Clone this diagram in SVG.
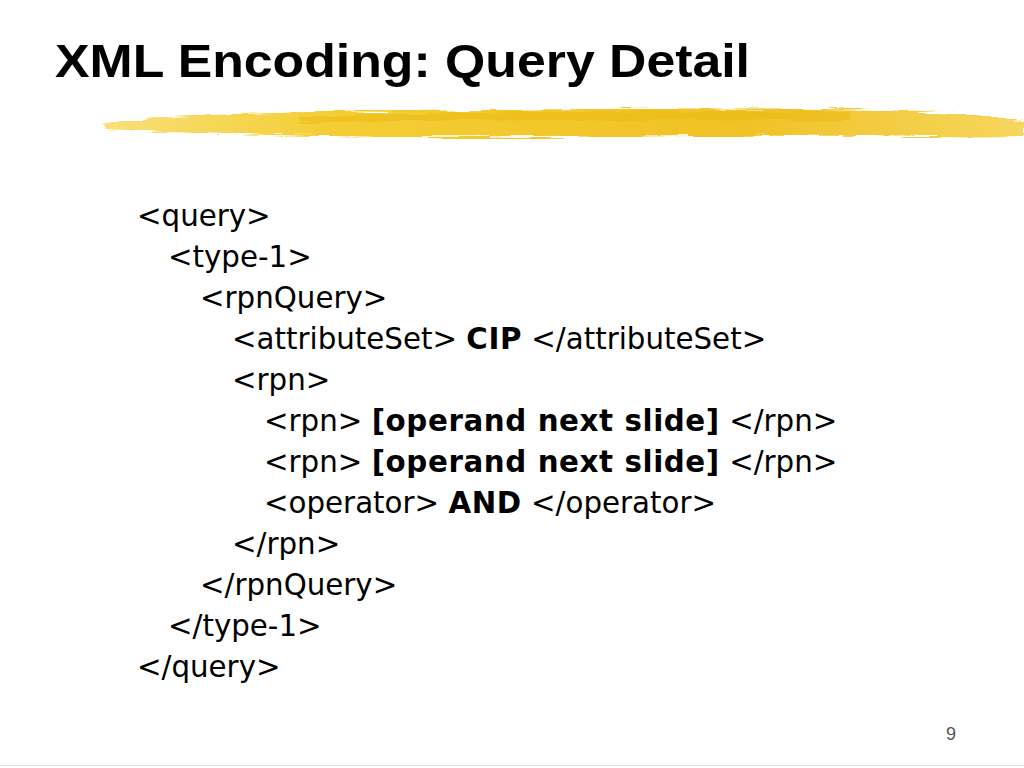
<svg xmlns="http://www.w3.org/2000/svg" width="1024" height="768" viewBox="0 0 1024 768">
<defs>
<linearGradient id="brush" x1="0" y1="0" x2="1" y2="0">
<stop offset="0" stop-color="#f8e07a"/>
<stop offset="0.25" stop-color="#f4cd33"/>
<stop offset="0.7" stop-color="#f0c226"/>
<stop offset="1" stop-color="#f6d65e"/>
</linearGradient>
<filter id="rough" x="-5%" y="-50%" width="110%" height="200%">
<feTurbulence type="fractalNoise" baseFrequency="0.02 0.4" numOctaves="3" seed="4" result="n"/>
<feDisplacementMap in="SourceGraphic" in2="n" scale="8" xChannelSelector="R" yChannelSelector="G"/>
</filter>
<style>
.body{font-family:"DejaVu Sans",Verdana,sans-serif;font-size:29.3px;fill:#000}
.b{font-weight:bold;letter-spacing:0.6px}
.title{font-family:"Liberation Sans",Arial,sans-serif;font-weight:bold;font-size:46px;fill:#000}
</style>
</defs>
<rect width="1024" height="768" fill="#fff"/>
<g id="brushstroke" filter="url(#rough)">
<path d="M102,124 C150,116 260,112 400,111 C560,109 760,107 880,110 C940,112 990,117 1024,120 L1024,137 C980,138 930,137 860,136 C720,135 560,138 400,137 C280,136 170,133 106,129 Z" fill="url(#brush)"/>
<path d="M300,117 C450,112 650,110 850,112 L850,121 C650,119 450,120 300,122 Z" fill="#eab812" opacity="0.5"/>
</g>
<text class="title" x="55" y="77" textLength="695" lengthAdjust="spacingAndGlyphs">XML Encoding: Query Detail</text>
<g id="code" class="body">
<text x="137" y="226">&lt;query&gt;</text>
<text x="168" y="267">&lt;type-1&gt;</text>
<text x="200" y="308">&lt;rpnQuery&gt;</text>
<text x="232" y="349">&lt;attributeSet&gt; <tspan class="b">CIP</tspan> &lt;/attributeSet&gt;</text>
<text x="232" y="390">&lt;rpn&gt;</text>
<text x="264" y="431">&lt;rpn&gt; <tspan class="b">[operand next slide]</tspan> &lt;/rpn&gt;</text>
<text x="264" y="472">&lt;rpn&gt; <tspan class="b">[operand next slide]</tspan> &lt;/rpn&gt;</text>
<text x="264" y="513">&lt;operator&gt; <tspan class="b">AND</tspan> &lt;/operator&gt;</text>
<text x="232" y="554">&lt;/rpn&gt;</text>
<text x="200" y="595">&lt;/rpnQuery&gt;</text>
<text x="168" y="636">&lt;/type-1&gt;</text>
<text x="137" y="677">&lt;/query&gt;</text>
</g>
<text x="951" y="740" text-anchor="middle" style="font-family:'Liberation Sans',Arial,sans-serif;font-size:18px;fill:#555">9</text>
<line x1="0" y1="765.5" x2="1024" y2="765.5" stroke="#e0e0e0" stroke-width="1"/>
</svg>
